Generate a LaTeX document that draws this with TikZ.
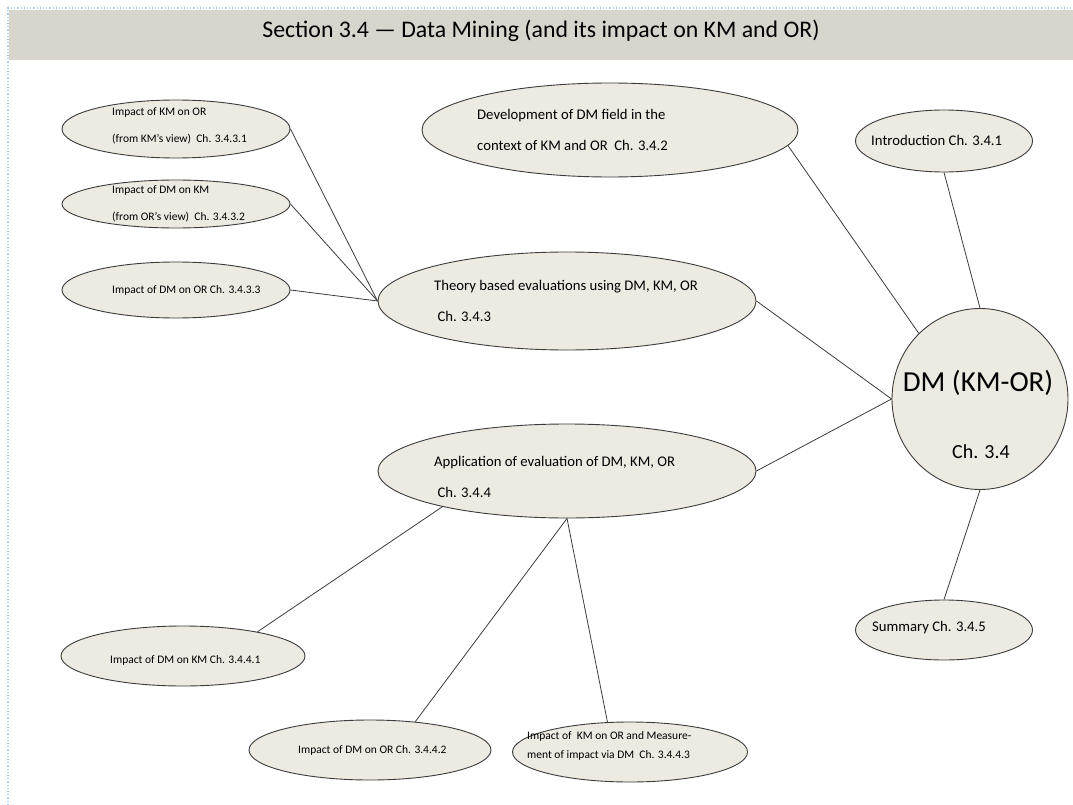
\documentclass[tikz,border=0pt]{standalone}
\usepackage{fontspec}
\setmainfont{Carlito}
\usetikzlibrary{shapes.geometric}
\definecolor{barfill}{HTML}{D8D5CD}
\definecolor{bubfill}{HTML}{ECEAE1}
\definecolor{inkline}{HTML}{3C3C3C}
\definecolor{frameblue}{HTML}{A8CCF0}
\tikzset{
  bub/.style={ellipse, draw=inkline, fill=bubfill, line width=0.9pt, inner sep=0pt},
  link/.style={draw=inkline, line width=0.8pt},
  smalltxt/.style={anchor=west, align=left, inner sep=0pt, font=\fontsize{11.5}{27}\selectfont},
  midtxt/.style={anchor=west, align=left, inner sep=0pt, font=\fontsize{14.7}{31}\selectfont},
}
\begin{document}
\begin{tikzpicture}[x=1pt,y=-1pt]
\useasboundingbox (0,0) rectangle (1073,805);
\fill[white] (0,0) rectangle (1073,805);
% page frame and title bar
\draw[frameblue, line width=1.2pt, dotted] (8,805) -- (8,8) -- (1073,8);
\fill[barfill] (9,10) rectangle (1073,60);
\node[font=\fontsize{23.8}{26}\selectfont, inner sep=0pt] (title) at (541,31) {Section 3.4 — Data Mining (and its impact on KM and OR)};

% bubbles
\node[bub, minimum width=228pt, minimum height=58pt] (a1) at (176,129) {};
\node[bub, minimum width=228pt, minimum height=48pt] (a2) at (176,204) {};
\node[bub, minimum width=228pt, minimum height=56pt] (a3) at (176,290) {};
\node[bub, minimum width=376pt, minimum height=94pt] (dev) at (610,130) {};
\node[bub, minimum width=378pt, minimum height=98pt] (theory) at (567,301) {};
\node[bub, minimum width=378pt, minimum height=94pt] (app) at (567,471) {};
\node[bub, minimum width=177pt, minimum height=62pt] (intro) at (944,141) {};
\node[bub, minimum width=176pt, minimum height=181pt] (dm) at (980,399) {};
\node[bub, minimum width=177pt, minimum height=60pt] (summ) at (944,630) {};
\node[bub, minimum width=244pt, minimum height=60pt] (i1) at (183,656) {};
\node[bub, minimum width=242pt, minimum height=60pt] (i2) at (370,750) {};
\node[bub, minimum width=235pt, minimum height=60pt] (i3) at (630,752) {};

% connectors
\draw[link] (a1.east) -- (theory.west);
\draw[link] (a2.east) -- (theory.west);
\draw[link] (a3.east) -- (theory.west);
\draw[link] (dev.-5) -- (dm.133);
\draw[link] (intro.south) -- (dm.north);
\draw[link] (theory.east) -- (dm.west);
\draw[link] (app.east) -- (dm.west);
\draw[link] (dm.south) -- (summ.north);
\draw[link] (app.196) -- (i1.18);
\draw[link] (app.south) -- (i2.32);
\draw[link] (app.south) -- (i3.127);

% labels
\node[smalltxt] (a1t) at (112,126) {Impact of KM on OR\\(from KM's view)\ \ Ch. 3.4.3.1};
\node[smalltxt] (a2t) at (112,203.5) {Impact of DM on KM\\(from OR's view)\ \ Ch. 3.4.3.2};
\node[smalltxt] (a3t) at (112,290) {Impact of DM on OR Ch. 3.4.3.3};
\node[midtxt] (devt) at (477,129.5) {Development of DM field in the\\context of KM and OR\ \ Ch. 3.4.2};
\node[midtxt] (theoryt) at (434,300.5) {Theory based evaluations using DM, KM, OR\\\ Ch. 3.4.3};
\node[midtxt] (appt) at (434,477) {Application of evaluation of DM, KM, OR\\\ Ch. 3.4.4};
\node[midtxt] (introt) at (871,140) {Introduction Ch. 3.4.1};
\node[midtxt] (summt) at (872,628) {Summary Ch. 3.4.5};
\node[font=\fontsize{29}{31}\selectfont, inner sep=0pt] (dmt) at (978,383) {DM (KM-OR)};
\node[font=\fontsize{20}{22}\selectfont, inner sep=0pt] (dmch) at (981,452) {Ch. 3.4};
\node[smalltxt] (i1t) at (110,660) {Impact of DM on KM Ch. 3.4.4.1};
\node[smalltxt] (i2t) at (298,750) {Impact of DM on OR Ch. 3.4.4.2};
\node[smalltxt, font=\fontsize{11.5}{19}\selectfont] (i3t) at (527,746) {Impact of\ \ KM on OR and Measure-\\ment of impact via DM\ \ Ch. 3.4.4.3};
\end{tikzpicture}
\end{document}
